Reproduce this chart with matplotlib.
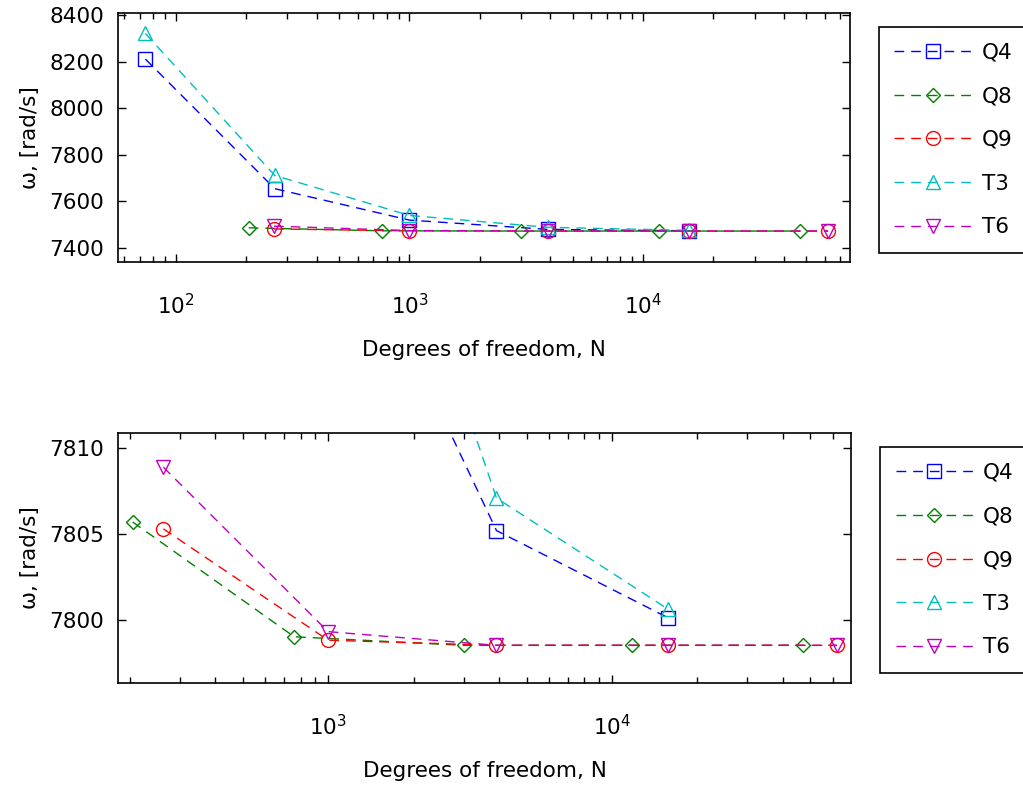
import matplotlib
matplotlib.use("Agg")
import matplotlib.pyplot as plt
from matplotlib.ticker import FuncFormatter
import numpy as np

plt.rcParams['font.family'] = ['DejaVu Sans']
plt.rcParams['mathtext.fontset'] = 'dejavusans'

labels = ["Q4", "Q8", "Q9", "T3", "T6"]
colors = ["#0000ff", "#008000", "#ff0000", "#00bfbf", "#bf00bf"]
markers = ["s", "D", "o", "^", "v"]

# x values (degrees of freedom)
n_q4 = [74, 265, 1000, 3920, 15800]
n_q8 = [205, 760, 3000, 11750, 47200]
n_q9 = [263, 1000, 3920, 15800, 62000]
n_t3 = [74, 265, 1000, 3920, 15800]
n_t6 = [263, 1000, 3920, 15800, 62000]

# top panel values
top_q4 = [8212, 7655, 7520, 7480, 7474]
top_q8 = [7487, 7474, 7473, 7473, 7473]
top_q9 = [7482, 7474, 7473, 7473, 7473]
top_t3 = [8322, 7712, 7540, 7489, 7476]
top_t6 = [7494, 7475, 7473, 7473, 7473]

# bottom panel values
bot_q4 = [8210, 7826, 7805.2, 7800.1]
bot_q8 = [7805.7, 7799.0, 7798.5, 7798.5, 7798.5]
bot_q9 = [7805.3, 7798.8, 7798.5, 7798.5, 7798.5]
bot_t3 = [8320, 7836, 7807.1, 7800.6]
bot_t6 = [7808.9, 7799.3, 7798.5, 7798.5, 7798.5]

top_x = [n_q4, n_q8, n_q9, n_t3, n_t6]
top_y = [top_q4, top_q8, top_q9, top_t3, top_t6]
bot_x = [n_q4[1:], n_q8, n_q9, n_t3[1:], n_t6]
bot_y = [bot_q4, bot_q8, bot_q9, bot_t3, bot_t6]

W, H = 1023, 787
fig = plt.figure(figsize=(W/100, H/100), dpi=100)
ax1 = fig.add_axes([118/W, 1-262/H, 732/W, 249/H])
ax2 = fig.add_axes([118/W, 1-683/H, 733/W, 250/H])

FS = 15.5

def logfmt(v, pos):
    e = int(round(np.log10(v)))
    return r"$10^{%d}$" % e

def draw(ax, xs, ys):
    for x, y, lab, c, m in zip(xs, ys, labels, colors, markers):
        ax.plot(x, y, linestyle=(0, (7, 5)), color=c, lw=1.0, marker=m,
                markerfacecolor='none', markeredgecolor=c,
                markersize=10 if m != 'D' else 7.5,
                markeredgewidth=1.0, label=lab)
    ax.set_xscale('log')
    ax.xaxis.set_major_formatter(FuncFormatter(logfmt))
    ax.tick_params(which='both', direction='in', top=True, right=True, labelsize=FS)
    ax.tick_params(which='major', length=6, width=1)
    ax.tick_params(which='minor', length=4, width=1)
    ax.tick_params(axis='x', which='major', pad=22)
    ax.tick_params(axis='y', which='major', pad=10)
    for s in ax.spines.values():
        s.set_linewidth(1.2)
    ax.set_ylabel("ω, [rad/s]", fontsize=FS, labelpad=7)
    ax.set_xlabel("Degrees of freedom, N", fontsize=FS, labelpad=16)
    leg = ax.legend(loc='upper left', bbox_to_anchor=(1.039, 0.945), fontsize=FS,
                    frameon=True, fancybox=False, edgecolor='black', framealpha=1,
                    handlelength=3.6, labelspacing=1.1, borderpad=0.74,
                    handletextpad=0.45, numpoints=1, borderaxespad=0)
    leg.get_frame().set_linewidth(1.2)

draw(ax1, top_x, top_y)
ax1.set_xlim(56.5, 76900)
ax1.set_ylim(7340, 8410)
ax1.set_yticks([7400, 7600, 7800, 8000, 8200, 8400])

draw(ax2, bot_x, bot_y)
ax2.set_xlim(182, 69500)
ax2.set_ylim(7796.3, 7810.9)
ax2.set_yticks([7800, 7805, 7810])

fig.savefig("out.png", dpi=100)
